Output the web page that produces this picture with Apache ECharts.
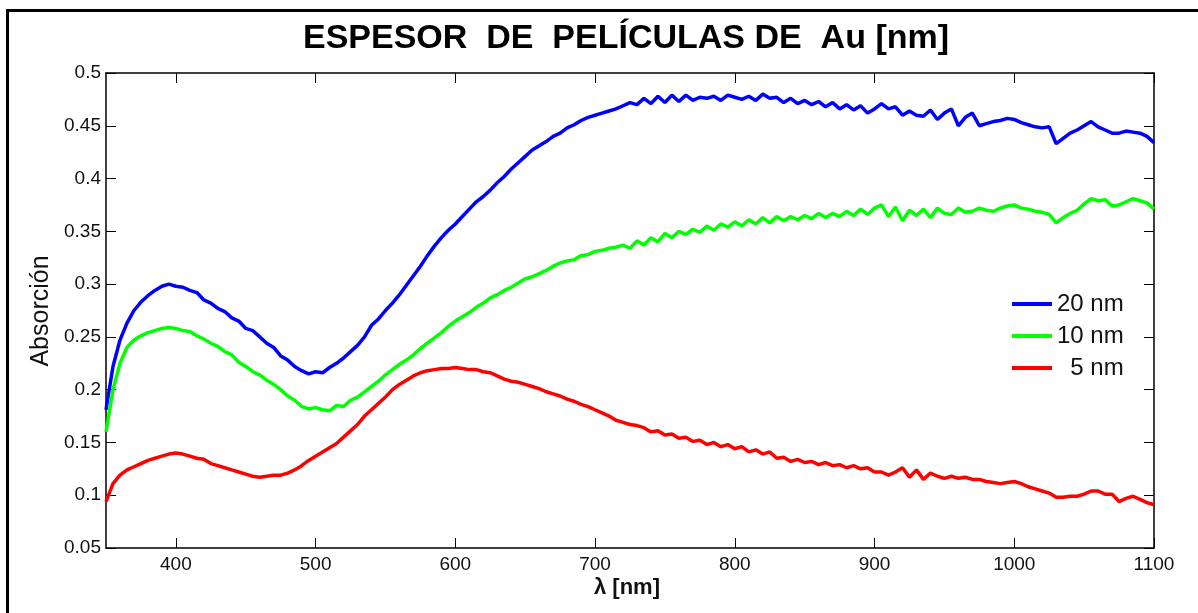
<!DOCTYPE html>
<html>
<head>
<meta charset="utf-8">
<script src="https://cdn.jsdelivr.net/npm/echarts@6/dist/echarts.min.js"></script>
<style>
  html, body { margin: 0; padding: 0; background: #fff; }
  #chart { width: 1198px; height: 613px; }
</style>
</head>
<body>
<div id="chart"></div>
<script>
// Wavelength grid (nm)
const wavelengths = [
  350,355,360,365,370,375,380,385,390,395,400,405,410,415,420,425,430,435,440,445,
  450,455,460,465,470,475,480,485,490,495,500,505,510,515,520,525,530,535,540,545,
  550,555,560,565,570,575,580,585,590,595,600,605,610,615,620,625,630,635,640,645,
  650,655,660,665,670,675,680,685,690,695,700,705,710,715,720,725,730,735,740,745,
  750,755,760,765,770,775,780,785,790,795,800,805,810,815,820,825,830,835,840,845,
  850,855,860,865,870,875,880,885,890,895,900,905,910,915,920,925,930,935,940,945,
  950,955,960,965,970,975,980,985,990,995,1000,1005,1010,1015,1020,1025,1030,1035,1040,1045,
  1050,1055,1060,1065,1070,1075,1080,1085,1090,1095,1100
];

// Absorption of the 20 nm film
const abs20 = [
  0.181,0.222,0.247,0.263,0.275,0.283,0.289,0.294,0.298,0.300,
  0.298,0.297,0.294,0.292,0.285,0.282,0.277,0.274,0.268,0.265,
  0.258,0.256,0.250,0.244,0.240,0.232,0.228,0.222,0.218,0.215,
  0.217,0.216,0.221,0.225,0.230,0.236,0.242,0.250,0.261,0.267,
  0.275,0.282,0.290,0.299,0.308,0.317,0.327,0.336,0.344,0.351,
  0.357,0.364,0.371,0.378,0.383,0.389,0.396,0.402,0.409,0.415,
  0.421,0.427,0.431,0.435,0.440,0.443,0.448,0.451,0.455,0.458,
  0.460,0.462,0.464,0.466,0.469,0.472,0.470,0.476,0.471,0.478,
  0.472,0.479,0.473,0.479,0.474,0.477,0.476,0.478,0.474,0.479,
  0.477,0.475,0.478,0.474,0.480,0.476,0.477,0.472,0.476,0.471,
  0.474,0.470,0.473,0.468,0.472,0.466,0.470,0.465,0.469,0.462,
  0.466,0.471,0.466,0.468,0.460,0.464,0.460,0.459,0.465,0.456,
  0.462,0.466,0.450,0.458,0.462,0.450,0.452,0.454,0.455,0.457,
  0.456,0.453,0.451,0.449,0.448,0.449,0.433,0.438,0.443,0.446,
  0.450,0.454,0.449,0.446,0.443,0.443,0.445,0.444,0.443,0.440,
  0.434
];

// Absorption of the 10 nm film
const abs10 = [
  0.160,0.200,0.225,0.240,0.247,0.251,0.254,0.256,0.258,0.259,
  0.258,0.256,0.255,0.251,0.248,0.244,0.241,0.236,0.233,0.226,
  0.222,0.217,0.214,0.209,0.205,0.200,0.194,0.190,0.184,0.182,
  0.183,0.181,0.180,0.185,0.184,0.190,0.193,0.198,0.203,0.208,
  0.214,0.219,0.224,0.228,0.233,0.239,0.244,0.249,0.254,0.260,
  0.265,0.269,0.273,0.278,0.282,0.287,0.290,0.294,0.297,0.301,
  0.305,0.307,0.310,0.313,0.317,0.320,0.322,0.323,0.327,0.328,
  0.331,0.332,0.334,0.335,0.337,0.334,0.341,0.337,0.344,0.340,
  0.348,0.344,0.350,0.347,0.352,0.349,0.355,0.351,0.357,0.354,
  0.359,0.355,0.361,0.357,0.363,0.358,0.364,0.360,0.364,0.361,
  0.365,0.362,0.367,0.363,0.367,0.364,0.369,0.365,0.371,0.366,
  0.372,0.375,0.364,0.373,0.360,0.370,0.365,0.371,0.363,0.372,
  0.367,0.366,0.372,0.368,0.369,0.372,0.370,0.369,0.372,0.374,
  0.375,0.372,0.371,0.369,0.368,0.366,0.358,0.363,0.367,0.370,
  0.376,0.381,0.379,0.380,0.374,0.375,0.378,0.381,0.379,0.377,
  0.371
];

// Absorption of the 5 nm film
const abs5 = [
  0.094,0.111,0.119,0.124,0.127,0.130,0.133,0.135,0.137,0.139,
  0.140,0.139,0.137,0.135,0.134,0.130,0.128,0.126,0.124,0.122,
  0.120,0.118,0.117,0.118,0.119,0.119,0.121,0.124,0.128,0.133,
  0.137,0.141,0.145,0.149,0.155,0.161,0.167,0.175,0.181,0.187,
  0.193,0.200,0.205,0.209,0.213,0.216,0.218,0.219,0.220,0.220,
  0.221,0.220,0.219,0.219,0.217,0.216,0.213,0.210,0.208,0.207,
  0.205,0.203,0.201,0.198,0.196,0.194,0.191,0.189,0.186,0.184,
  0.181,0.178,0.175,0.171,0.169,0.167,0.166,0.164,0.160,0.161,
  0.157,0.158,0.154,0.155,0.151,0.152,0.148,0.150,0.146,0.148,
  0.144,0.146,0.141,0.143,0.139,0.141,0.135,0.136,0.132,0.134,
  0.131,0.132,0.129,0.131,0.128,0.129,0.126,0.128,0.125,0.126,
  0.122,0.122,0.119,0.122,0.126,0.117,0.124,0.115,0.121,0.118,
  0.116,0.118,0.116,0.117,0.115,0.115,0.113,0.112,0.111,0.112,
  0.113,0.111,0.108,0.106,0.104,0.102,0.098,0.098,0.099,0.099,
  0.101,0.104,0.104,0.101,0.101,0.094,0.097,0.099,0.096,0.093,
  0.091
];

// Axis tick positions
const xTicks = [400, 500, 600, 700, 800, 900, 1000, 1100];
const seriesNames = ['20 nm', '10 nm', '  5 nm'];
const seriesColors = ['#0000ff', '#00ff00', '#ff0000'];

const FONT = "'Liberation Sans', Arial, Helvetica, sans-serif";

function pairs(vals) {
  return wavelengths.map((w, i) => [w, vals[i]]);
}

const chart = echarts.init(document.getElementById('chart'), null, { renderer: 'canvas' });

const xCommon = {
  type: 'value', min: 350, max: 1100,
  axisLine: { show: true, onZero: false, lineStyle: { color: '#000', width: 1.5 } },
  axisTick: { show: true, inside: true, length: 10, customValues: xTicks, lineStyle: { color: '#000', width: 1 } },
  splitLine: { show: false }
};
const yCommon = {
  type: 'value', min: 0.05, max: 0.5, interval: 0.05,
  axisLine: { show: true, onZero: false, lineStyle: { color: '#000', width: 1.5 } },
  axisTick: { show: true, inside: true, length: 10, lineStyle: { color: '#000', width: 1 } },
  splitLine: { show: false }
};

chart.setOption({
  animation: false,
  backgroundColor: '#fff',
  grid: { left: 106, top: 73, right: 44, bottom: 65, containLabel: false },
  xAxis: [
    Object.assign({}, xCommon, {
      position: 'bottom',
      axisLabel: { customValues: xTicks, fontSize: 19, color: '#111', fontFamily: FONT, margin: 7,
                   formatter: v => String(v) }
    }),
    Object.assign({}, xCommon, { position: 'top', axisLabel: { show: false } })
  ],
  yAxis: [
    Object.assign({}, yCommon, {
      position: 'left',
      axisLabel: { fontSize: 19, color: '#111', fontFamily: FONT, margin: 5 }
    }),
    Object.assign({}, yCommon, { position: 'right', axisLabel: { show: false } })
  ],
  legend: {
    orient: 'vertical', left: 1012, top: 292, padding: 0,
    itemWidth: 40, itemHeight: 4, itemGap: 8, icon: 'rect',
    data: seriesNames,
    textStyle: { fontSize: 24, color: '#111', fontFamily: FONT }
  },
  series: [abs20, abs10, abs5].map((vals, i) => ({
    name: seriesNames[i],
    type: 'line',
    data: pairs(vals),
    showSymbol: false,
    symbol: 'none',
    color: seriesColors[i],
    lineStyle: { color: seriesColors[i], width: 3.5 },
    z: 3 + i
  })),
  graphic: [
    { type: 'polyline', z: 100,
      shape: { points: [[7.5, 640], [7.5, 10.5], [1210, 10.5]] },
      style: { stroke: '#000', lineWidth: 3, fill: null } },
    { type: 'text', x: 626, y: 39, z: 100,
      style: { text: 'ESPESOR  DE  PELÍCULAS DE  Au [nm]', font: 'bold 34px ' + FONT,
               fill: '#000', textAlign: 'center', textVerticalAlign: 'middle' } },
    { type: 'text', x: 627, y: 588, z: 100,
      style: { text: 'λ [nm]', font: 'bold 22px ' + FONT,
               fill: '#111', textAlign: 'center', textVerticalAlign: 'middle' } },
    { type: 'text', x: 41, y: 311, rotation: Math.PI / 2, z: 100,
      style: { text: 'Absorción', font: '25px ' + FONT,
               fill: '#111', textAlign: 'center', textVerticalAlign: 'middle' } }
  ]
});
</script>
</body>
</html>
